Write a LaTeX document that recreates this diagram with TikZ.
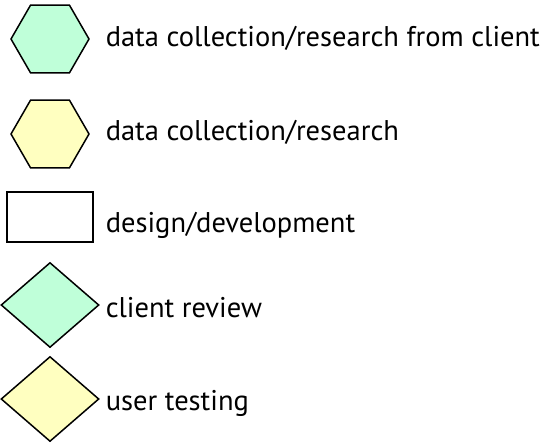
\documentclass[tikz,border=0pt]{standalone}
\usepackage{fontspec}
\setmainfont{PT Sans}
\usetikzlibrary{shapes.geometric}
\definecolor{mintfill}{RGB}{191,255,217}
\definecolor{creamfill}{RGB}{255,255,192}
\begin{document}
\begin{tikzpicture}
        [x=1pt,y=-1pt,line width=1.5pt,
         hexnode/.style={draw, regular polygon, regular polygon sides=6, inner sep=0pt, minimum size=78pt},
         diamnode/.style={draw, diamond, inner sep=0pt, minimum width=98pt, minimum height=85pt},
         boxnode/.style={draw, rectangle, inner sep=0pt, minimum width=86pt, minimum height=50pt},
         lbl/.style={anchor=base west, inner sep=0pt, font=\fontsize{28.5}{32}\selectfont}]
      \useasboundingbox (0,0) rectangle (545,444);
      \node[hexnode, fill=mintfill] (hexclient) at (50,39) {};
      \node[hexnode, fill=creamfill] (hexresearch) at (50,134) {};
      \node[boxnode] (design) at (50,217) {};
      \node[diamnode, fill=mintfill] (review) at (50,305) {};
      \node[diamnode, fill=creamfill] (testing) at (50,399) {};

      \foreach \shp/\ypos/\txt in {hexclient/47/data collection\slash research from client, hexresearch/140/data collection\slash research, design/232/design\slash development, review/317/client review, testing/410/user testing}
        \node[lbl] (\shp-lbl) at (105,\ypos) {\txt};
    \end{tikzpicture}
\end{document}
